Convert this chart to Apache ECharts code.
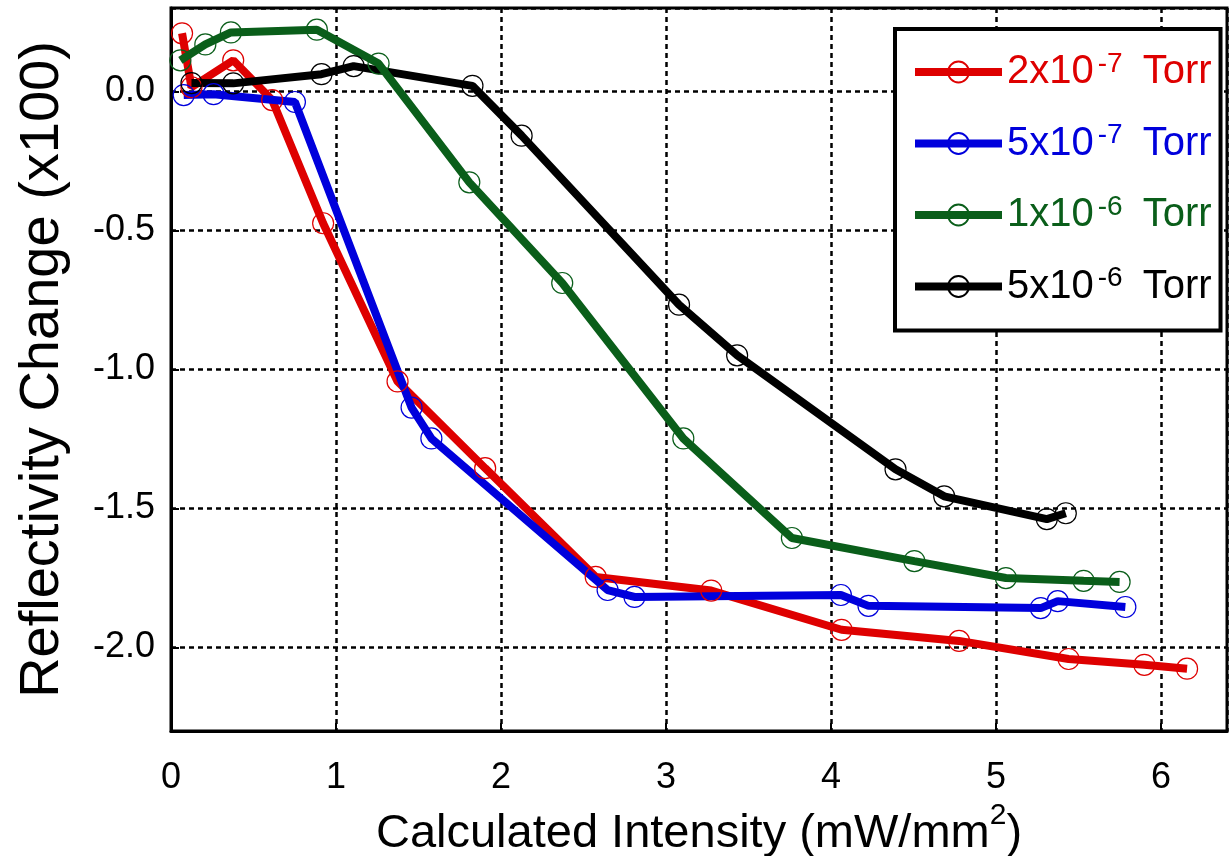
<!DOCTYPE html>
<html>
<head>
<meta charset="utf-8">
<script src="https://cdn.jsdelivr.net/npm/echarts@6/dist/echarts.min.js"></script>
<style>
  body { margin: 0; background: #fff; }
  #chart { width: 1231px; height: 856px; }
</style>
</head>
<body>
<div id="chart"></div>
<script>
// data: [intensity mW/mm^2, reflectivity change x100]
var red2e7 = [
  [0.067, 0.209], [0.124, 0.015], [0.377, 0.112], [0.613, -0.031], [0.922, -0.474],
  [1.373, -1.043], [1.904, -1.355], [2.574, -1.746], [3.274, -1.795], [4.064, -1.936],
  [4.776, -1.976], [5.440, -2.041], [5.899, -2.062], [6.158, -2.076]
];
var blue5e7 = [
  [0.077, -0.013], [0.258, -0.010], [0.751, -0.038], [1.458, -1.137], [1.578, -1.248],
  [2.646, -1.793], [2.809, -1.818], [4.060, -1.811], [4.227, -1.850], [5.271, -1.858],
  [5.374, -1.833], [5.784, -1.854]
];
var green1e6 = [
  [0.057, 0.112], [0.208, 0.169], [0.363, 0.212], [0.884, 0.222], [1.258, 0.100],
  [1.808, -0.327], [2.371, -0.689], [3.105, -1.248], [3.763, -1.606], [4.505, -1.689],
  [5.060, -1.750], [5.531, -1.760], [5.749, -1.764]
];
var black5e6 = [
  [0.124, 0.030], [0.377, 0.029], [0.912, 0.062], [1.107, 0.091], [1.827, 0.020],
  [2.125, -0.159], [3.079, -0.767], [3.431, -0.949], [4.391, -1.359], [4.686, -1.456],
  [5.308, -1.538], [5.423, -1.517]
];

var seriesNames = ['2x10-7 Torr', '5x10-7 Torr', '1x10-6 Torr', '5x10-6 Torr'];
var mantissas = ['2', '5', '1', '5'];
var exponents = ['-7', '-7', '-6', '-6'];
var colors = ['#DE0000', '#0000DC', '#0A5E1A', '#000000'];
var allData = [red2e7, blue5e7, green1e6, black5e6];
var drawOrder = [0, 1, 3, 2];

var font = 'Liberation Sans, Arial, sans-serif';

var chartDom = document.getElementById('chart');
var myChart = echarts.init(chartDom);
var option;

option = {
  animation: false,
  backgroundColor: '#fff',
  grid: {
    left: 171,
    right: 4,
    top: 8,
    bottom: 125,
    outerBoundsMode: 'none',
    containLabel: false,
    show: true,
    borderColor: '#000',
    borderWidth: 3,
    backgroundColor: 'transparent'
  },
  legend: {
    orient: 'vertical',
    left: 895,
    top: 29,
    padding: [21, 9, 22, 16],
    itemWidth: 87,
    itemHeight: 26,
    itemGap: 27.5,
    selectedMode: false,
    backgroundColor: '#fff',
    borderColor: '#000',
    borderWidth: 4,
    borderRadius: 0,
    lineStyle: { width: 8 },
    textStyle: {
      fontFamily: font,
      fontSize: 40,
      lineHeight: 44,
      rich: {
        sup: { fontFamily: font, fontSize: 28, lineHeight: 26, verticalAlign: 'top', padding: [0, 20, 0, 4] }
      }
    },
    formatter: function (name) {
      var i = seriesNames.indexOf(name);
      return mantissas[i] + 'x10{sup|' + exponents[i] + '}Torr';
    },
    data: seriesNames.map(function (n, i) {
      return { name: n, textStyle: { color: colors[i] } };
    })
  },
  xAxis: {
    type: 'value',
    min: 0,
    max: 6.4,
    interval: 1,
    name: 'Calculated Intensity (mW/mm{sup|2})',
    nameLocation: 'middle',
    nameGap: 55,
    nameTextStyle: {
      fontFamily: font,
      fontSize: 47,
      lineHeight: 66,
      color: '#000',
      rich: {
        sup: { fontFamily: font, fontSize: 30, lineHeight: 30, verticalAlign: 'top', color: '#000' }
      }
    },
    axisLine: { show: true, onZero: false, lineStyle: { color: '#000', width: 3 } },
    axisTick: { show: true, inside: true, length: 8, lineStyle: { color: '#000', width: 2 } },
    axisLabel: {
      fontFamily: font,
      fontSize: 36,
      color: '#000',
      margin: 29,
      showMaxLabel: false
    },
    splitLine: { show: true, lineStyle: { color: '#000', width: 2.5, type: [5, 4] } }
  },
  yAxis: {
    type: 'value',
    min: -2.3,
    max: 0.3,
    splitNumber: 5,
    name: 'Reflectivity Change (x100)',
    nameLocation: 'middle',
    nameGap: 100,
    nameTextStyle: { fontFamily: font, fontSize: 56, color: '#000' },
    axisLine: { show: true, onZero: false, lineStyle: { color: '#000', width: 3 } },
    axisTick: { show: true, inside: true, length: 8, lineStyle: { color: '#000', width: 2 } },
    axisLabel: {
      fontFamily: font,
      fontSize: 36,
      color: '#000',
      margin: 16,
      showMinLabel: false,
      showMaxLabel: false,
      formatter: function (v) { return v.toFixed(1); }
    },
    splitLine: { show: true, lineStyle: { color: '#000', width: 2.5, type: [5, 4] } }
  },
  series: []
};

for (var k = 0; k < drawOrder.length; k++) {
  var i = drawOrder[k];
  option.series.push({
    type: 'line',
    name: seriesNames[i],
    data: allData[i],
    symbol: 'circle',
    symbolSize: 21,
    lineStyle: { color: colors[i], width: 8 },
    itemStyle: { color: 'rgba(255,255,255,0)', borderColor: colors[i], borderWidth: 1.2 },
    emphasis: { disabled: true }
  });
}

option && myChart.setOption(option);
</script>
</body>
</html>
